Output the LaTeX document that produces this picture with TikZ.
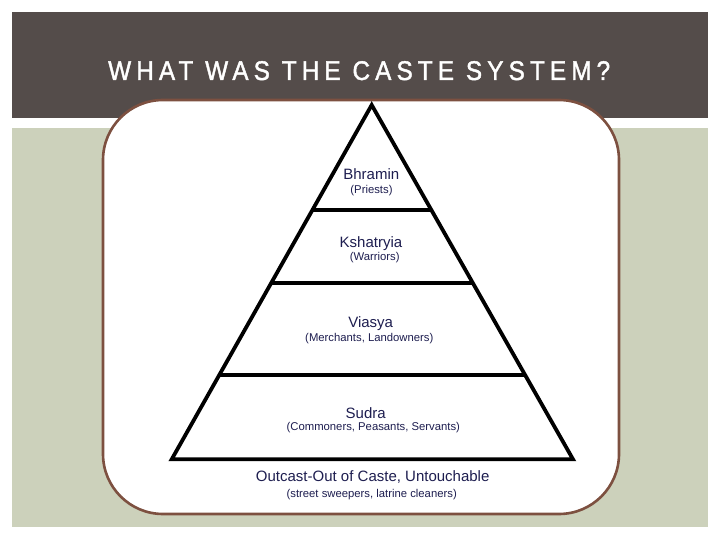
\documentclass[tikz,border=0pt]{standalone}
\usepackage{fontspec}
\setmainfont{Liberation Sans}
\newfontfamily\titlefont[LetterSpace=19,FakeStretch=0.9,FakeBold=1.5]{Liberation Sans}
\definecolor{bandgray}{RGB}{84,76,74}
\definecolor{sage}{RGB}{204,209,187}
\definecolor{boxbrown}{RGB}{125,80,64}
\definecolor{navy}{RGB}{30,30,80}
\tikzset{
  tier/.style={font=\fontsize{15}{17}\selectfont, text=navy, anchor=base, inner sep=0pt},
  sub/.style={font=\fontsize{11.3}{13}\selectfont, text=navy, anchor=base, inner sep=0pt},
  pyr/.style={line width=3.8pt, black, line join=miter},
}
\begin{document}
\begin{tikzpicture}[x=1pt,y=-1pt]
\useasboundingbox (0,0) rectangle (720,540);
\fill[white] (0,0) rectangle (720,540);
\fill[bandgray] (12,12) rectangle (708,118);
\fill[sage] (12,128) rectangle (708,527);
\node[anchor=base west, inner sep=0pt, text=white, font=\titlefont\fontsize{27}{30}\selectfont] (title) at (108,80) {WHAT WAS THE CASTE SYSTEM?};
\draw[boxbrown, line width=2.6pt, fill=white, rounded corners=60pt] (103,100) rectangle (619,514);
% pyramid
\coordinate (apex) at (371.7,105);
\coordinate (bl) at (171.7,459.3);
\coordinate (br) at (573,459.3);
\draw[pyr] (bl) -- (apex) -- (br) -- cycle;
\coordinate (al) at (312.4,210);   \coordinate (ar) at (431.4,210);
\coordinate (bbl) at (271.4,282.7); \coordinate (bbr) at (472.7,282.7);
\coordinate (cl) at (219.1,375.3); \coordinate (cr) at (525.3,375.3);
\draw[pyr] (al) -- (ar);
\draw[pyr] (bbl) -- (bbr);
\draw[pyr] (cl) -- (cr);
\node[tier] (bhr) at (371.3,180) {Bhramin};
\node[sub] (pri) at (371.5,193.7) {(Priests)};
\node[tier] (ksh) at (371,247.7) {Kshatryia};
\node[sub] (war) at (374.7,260.7) {(Warriors)};
\node[tier] (via) at (370.7,327.7) {Viasya};
\node[sub] (mer) at (369.3,341.7) {(Merchants, Landowners)};
\node[tier] (sud) at (365.7,418.3) {Sudra};
\node[sub] (com) at (373.3,430.7) {(Commoners, Peasants, Servants)};
\node[tier] (out) at (372.7,481.7) {Outcast-Out of Caste, Untouchable};
\node[sub] (str) at (371.7,497.3) {(street sweepers, latrine cleaners)};
\end{tikzpicture}
\end{document}
